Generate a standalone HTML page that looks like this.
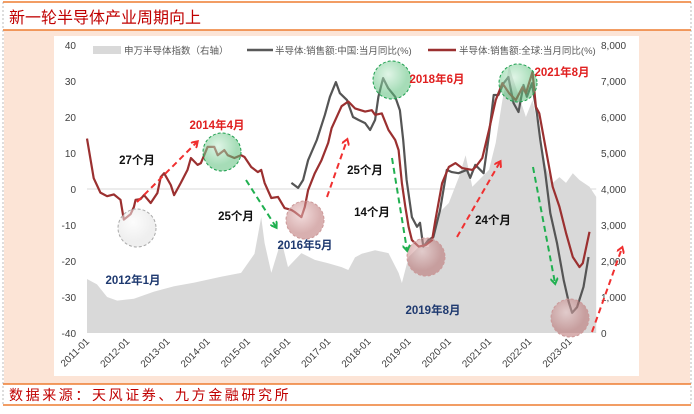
<!DOCTYPE html>
<html><head><meta charset="utf-8"><style>
body{margin:0;width:694px;height:409px;overflow:hidden;background:#fff;font-family:"Liberation Sans","Noto Sans CJK SC",sans-serif;}
</style></head><body>
<svg id="c" width="694" height="409" xmlns="http://www.w3.org/2000/svg" style="font-family:'Liberation Sans','Noto Sans CJK SC',sans-serif">
<defs>
<radialGradient id="gg" cx="40%" cy="35%"><stop offset="0" stop-color="#c6ecd2"/><stop offset="1" stop-color="#5cc07c"/></radialGradient>
<radialGradient id="pg" cx="40%" cy="35%"><stop offset="0" stop-color="#e8c0c0"/><stop offset="1" stop-color="#b86e6e"/></radialGradient>
<radialGradient id="wg" cx="40%" cy="35%"><stop offset="0" stop-color="#fafafa"/><stop offset="1" stop-color="#e2e2e2"/></radialGradient>
<marker id="ar" markerWidth="8" markerHeight="8" refX="5" refY="4" orient="auto" markerUnits="userSpaceOnUse"><path d="M0,0 L6,4 L0,8" fill="none" stroke="#f03030" stroke-width="2"/></marker>
<marker id="ag" markerWidth="8" markerHeight="8" refX="5" refY="4" orient="auto" markerUnits="userSpaceOnUse"><path d="M0,0 L6,4 L0,8" fill="none" stroke="#20b050" stroke-width="2"/></marker>
</defs>
<line x1="3" y1="2" x2="3" y2="406" stroke="#bbb" stroke-dasharray="2,2"/>
<line x1="691" y1="2" x2="691" y2="406" stroke="#bbb" stroke-dasharray="2,2"/>
<line x1="3" y1="2" x2="691" y2="2" stroke="#ed7d31" stroke-width="1.5"/>
<text x="9" y="23" font-size="16" fill="#c00000">新一轮半导体产业周期向上</text>
<rect x="4" y="30" width="686" height="354" fill="#fce4d6"/>
<line x1="3" y1="30" x2="691" y2="30" stroke="#ed7d31" stroke-width="1.5"/>
<rect x="54" y="36" width="585" height="340" fill="#fff"/>
<line x1="3" y1="384" x2="691" y2="384" stroke="#ed7d31" stroke-width="1.5"/>
<line x1="3" y1="405" x2="691" y2="405" stroke="#ed7d31" stroke-width="1.5"/>
<text x="9" y="400" font-size="14" letter-spacing="2.6" fill="#c00000">数据来源：天风证券、九方金融研究所</text>
<g id="plot"></g>
<g font-size="9.5" fill="#595959">
<rect x="93" y="46" width="28" height="8" fill="#d9d9d9"/>
<text x="124" y="54">申万半导体指数（右轴）</text>
<line x1="247" y1="50" x2="273" y2="50" stroke="#595959" stroke-width="2.5"/>
<text x="275" y="54">半导体:销售额:中国:当月同比(%)</text>
<line x1="428" y1="50" x2="456" y2="50" stroke="#9b3030" stroke-width="2.5"/>
<text x="459" y="54">半导体:销售额:全球:当月同比(%)</text>
</g>
</svg>
<script>
const xTicks=["2011-01","2012-01","2013-01","2014-01","2015-01","2016-01","2017-01","2018-01","2019-01","2020-01","2021-01","2022-01","2023-01"];
const leftTicks=[40,30,20,10,0,-10,-20,-30,-40];
const rightTicks=[8000,7000,6000,5000,4000,3000,2000,1000,0];
const rightLabels=["8,000","7,000","6,000","5,000","4,000","3,000","2,000","1,000","0"];
// months since 2011-01
const aM=[0,3,6,9,14,20,26,32,40,46,50,52,53,55,58,60,64,68,72,76,78,80,82,86,90,93,94,96,99,102,105,108,111,113,115,117,120,122,124,126,127,129,131,133,135,137,139,141,143,145,147,150,152];
const aV=[1500,1350,1000,900,950,1150,1300,1400,1560,1670,2200,3220,2500,1670,2580,1830,2220,2030,1940,1830,1750,2100,2200,2300,2220,1670,1390,2110,2390,2390,3330,3610,4330,4940,4060,4250,4530,5280,6470,7440,7110,6560,6000,6470,5560,4610,4170,4330,4170,4440,4250,4060,3780];
const gM=[0,2,4,6,8,10,11,13,14,14.5,16,17,19,21,22,23,25,26,28,30,31,33,34,36,38,39,41,42,44,46,47,49,51,52,53,55,57,59,61,62,64,65,66,68,70,72,73,76,78,80,83,85,86,88,90,92,93,94,95,96,97,99,101,103,104,106,108,110,112,115,116,118,120,122,124,126,128,130,131,133,134,135,137,139,141,143,145,147,148,150];
const gV=[14,3,-1,-2,-1.5,-3,-8.5,-7,-5,-3,-2.8,-1.7,-3.9,-1.1,3.3,4.4,1.1,-1.7,1.7,5.3,8.6,6.7,7.2,11.7,11.7,9.4,10.8,9.4,8.6,9.4,8.9,6.1,4.7,5.3,1.7,-2.5,-2.2,-5.3,-5.8,-6.4,-7.8,-5,-0.3,4.4,8,12.8,16.9,23,24.3,22.4,21.5,21.9,20.6,21,16.4,13.6,10.8,1.6,-4.9,-10.5,-14.2,-16,-15.6,-14.2,-8.6,1.6,6.1,7.2,5.8,5.3,6.1,8.6,16.4,24.7,29.4,26.6,24.7,28.3,26.6,32.5,22.8,21,10.8,0.6,-4.9,-12.2,-18.9,-21.7,-20.6,-11.9];
const cM=[61,63,64.5,66,68.6,71,72.5,74.3,75.5,77.6,79.4,81,83,84.5,86,87,88.4,89.9,92,93.4,94.4,95.4,97,98.5,99.4,100.4,101.9,103.4,105.4,107.4,108.9,110.9,113.4,114.4,115.9,118.4,119.9,121.4,122.8,124.4,125.8,127.3,128.8,130.3,131.3,132.8,134.3,135.3,136.8,138.3,140.3,142.3,143.8,144.8,146.3,148.2,149.7];
const cV=[1.7,0.3,2.5,8,13.6,20.6,25.6,29.7,26.6,24.7,20,19.2,18.3,16.4,19.2,25.6,30.8,28,25.6,21.9,13.6,2.5,-7.8,-10.5,-9.4,-16,-14.2,-13.3,-5.8,5.3,4.7,4.4,5.3,3.1,6.7,4.4,14.4,26.1,26.1,29.4,31.1,23.9,21.4,28.9,25.6,29.4,21,13.6,4.4,-6.7,-15,-25.3,-31.4,-34.4,-32.8,-27.2,-18.9];

const X=m=>87+m*40.2/12, YL=v=>189-v*3.6, YR=v=>333-v*0.036;
const NS="http://www.w3.org/2000/svg", plot=document.getElementById('plot');
function mk(t,a,p){const e=document.createElementNS(NS,t);for(const k in a)e.setAttribute(k,a[k]);(p||plot).appendChild(e);return e;}

let d="M"+X(aM[0])+","+YR(0);
aM.forEach((m,i)=>{d+=" L"+X(m).toFixed(1)+","+YR(aV[i]).toFixed(1);});
d+=" L"+X(aM[aM.length-1])+","+YR(0)+"Z";
const area=mk('path',{d:d,fill:'#d9d9d9'});



const zl=mk('line',{x1:X(0),x2:X(152),y1:YL(0),y2:YL(0),stroke:'#d9d9d9'});



leftTicks.forEach(v=>{const t=mk('text',{x:76,y:YL(v)+4,'text-anchor':'end','font-size':10,fill:'#404040'});t.textContent=v;

});
rightTicks.forEach((v,i)=>{const t=mk('text',{x:601,y:YR(v)+4,'font-size':10,fill:'#404040'});t.textContent=rightLabels[i];

});
xTicks.forEach((s,i)=>{const x=X(i*12);const t=mk('text',{x:0,y:0,'text-anchor':'end','font-size':10,fill:'#404040',transform:`translate(${x+3},${342}) rotate(-45)`});t.textContent=s;

});

function line(M,V,col,name){const p=mk('path',{d:M.map((m,i)=>(i?"L":"M")+X(m).toFixed(1)+","+YL(V[i]).toFixed(1)).join(" "),fill:'none',stroke:col,'stroke-width':2.2,'stroke-linejoin':'round'});

}
line(cM,cV,'#555555','china-sales-yoy-line');
line(gM,gV,'#9b3030','global-sales-yoy-line');

const circles=[[137,228,'wg','#aaa'],[222,152,'gg','#20a050'],[305,220,'pg','#c99'],[392,80,'gg','#20a050'],[426,257,'pg','#c99'],[518,83,'gg','#20a050'],[570,318,'pg','#c99']];
circles.forEach(c=>{const e=mk('circle',{cx:c[0],cy:c[1],r:19,fill:`url(#${c[2]})`,'fill-opacity':0.55,stroke:c[3],'stroke-dasharray':'3,2'});

});
const arrows=[[137,202,197,142,'r'],[246,180,276,227,'g'],[327,197,347,140,'r'],[392,158,407,250,'g'],[457,237,500,162,'r'],[533,167,555,283,'g'],[592,332,622,248,'r']];
arrows.forEach(a=>{const e=mk('line',{x1:a[0],y1:a[1],x2:a[2],y2:a[3],stroke:a[4]=='r'?'#f03030':'#20b050','stroke-width':2,'stroke-dasharray':'6,4','marker-end':`url(#a${a[4]})`});

});
const labels=[["2014年4月",217,129,'#e02020'],["27个月",137,164,'#111'],["25个月",236,220,'#111'],["2016年5月",305,249,'#1f3a70'],["2012年1月",133,284,'#1f3a70'],["25个月",365,174,'#111'],["2018年6月",437,83,'#e02020'],["14个月",372,216,'#111'],["24个月",493,224,'#111'],["2019年8月",433,314,'#1f3a70'],["2021年8月",562,76,'#e02020']];
labels.forEach(l=>{const t=mk('text',{x:l[1],y:l[2],'text-anchor':'middle','font-size':11.5,'font-weight':'bold',fill:l[3]});t.textContent=l[0];

});
</script>
</body></html>
